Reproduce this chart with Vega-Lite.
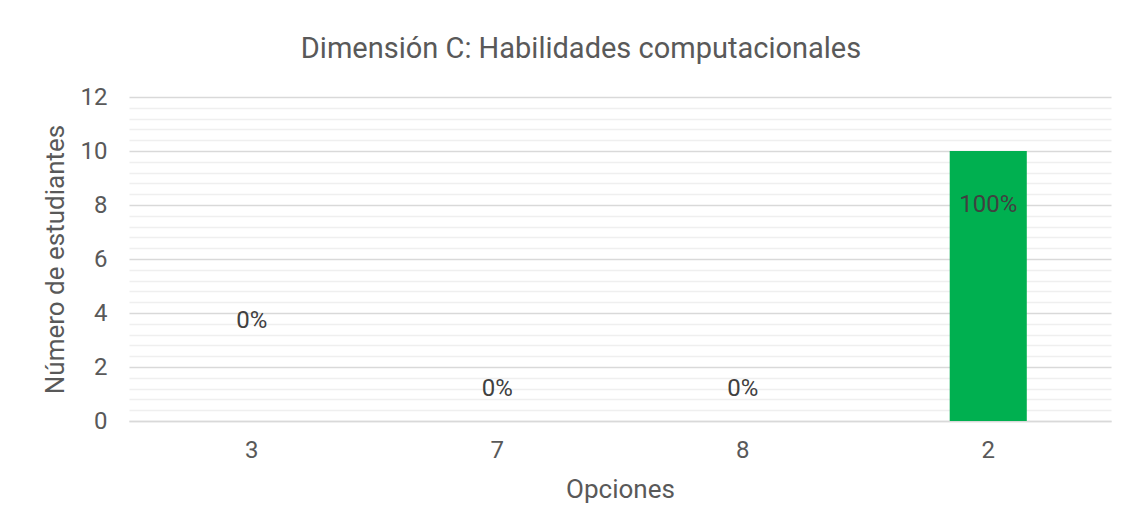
{
  "$schema": "https://vega.github.io/schema/vega-lite/v6.json",
  "autosize": {"type": "none"},
  "width": 982,
  "height": 324,
  "padding": {"left": 129, "top": 97, "right": 20, "bottom": 110},
  "background": "white",
  "title": {
    "text": "Dimensión C: Habilidades computacionales",
    "font": "Roboto",
    "fontSize": 29,
    "fontWeight": "normal",
    "color": "#595959",
    "anchor": "middle",
    "frame": "group",
    "dx": -39,
    "offset": 21
  },
  "data": {
    "values": [
      {"opcion": "3", "valor": 0, "pct": "0%", "pos": 3.7},
      {"opcion": "7", "valor": 0, "pct": "0%", "pos": 1.2},
      {"opcion": "8", "valor": 0, "pct": "0%", "pos": 1.2},
      {"opcion": "2", "valor": 10, "pct": "100%", "pos": 8}
    ]
  },
  "encoding": {
    "x": {
      "field": "opcion",
      "type": "nominal",
      "sort": ["3", "7", "8", "2"],
      "scale": {"paddingInner": 0.686, "paddingOuter": 0.343},
      "axis": {
        "title": "Opciones",
        "labelAngle": 0,
        "ticks": false,
        "domain": true,
        "domainColor": "#d9d9d9",
        "domainWidth": 1.5,
        "labelPadding": 17,
        "labelFontSize": 24,
        "labelColor": "#595959",
        "labelFont": "Roboto",
        "titleFont": "Roboto",
        "titleFontSize": 26,
        "titleFontWeight": "normal",
        "titleColor": "#595959",
        "titlePadding": 14
      }
    }
  },
  "layer": [
    {
      "mark": {"type": "bar", "color": "#00b050"},
      "encoding": {
        "y": {
          "field": "valor",
          "type": "quantitative",
          "scale": {"domain": [0, 12], "nice": false},
          "axis": {
            "title": "Número de estudiantes",
            "values": [0, 0.4, 0.8, 1.2, 1.6, 2, 2.4, 2.8, 3.2, 3.6, 4, 4.4, 4.8, 5.2, 5.6, 6, 6.4, 6.8, 7.2, 7.6, 8, 8.4, 8.8, 9.2, 9.6, 10, 10.4, 10.8, 11.2, 11.6, 12],
            "tickCount": 100,
            "labelExpr": "datum.value % 2 === 0 ? '' + datum.value : ''",
            "labelOverlap": false,
            "labelBound": false,
            "labelFlush": false,
            "grid": true,
            "gridColor": {"condition": {"test": "datum.value % 2 === 0", "value": "#d9d9d9"}, "value": "#efefef"},
            "gridWidth": 1.5,
            "ticks": false,
            "domain": false,
            "labelPadding": 22,
            "labelFontSize": 24,
            "labelColor": "#595959",
            "labelFont": "Roboto",
            "titleFont": "Roboto",
            "titleFontSize": 26,
            "titleFontWeight": "normal",
            "titleColor": "#595959",
            "titlePadding": 12
          }
        }
      }
    },
    {
      "mark": {"type": "text", "font": "Roboto", "fontSize": 24, "color": "#404040", "baseline": "middle", "align": "center"},
      "encoding": {
        "y": {"field": "pos", "type": "quantitative"},
        "text": {"field": "pct"}
      }
    }
  ],
  "config": {"view": {"stroke": null}}
}
